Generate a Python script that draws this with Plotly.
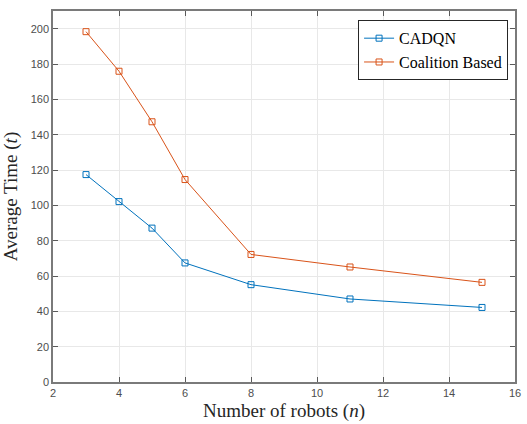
import plotly.graph_objects as go

robots = [3, 4, 5, 6, 8, 11, 15]
cadqn = [117.4, 102.1, 87.1, 67.4, 55.1, 47.0, 42.2]
coalition = [198.3, 175.9, 147.3, 114.6, 72.2, 65.1, 56.4]

SERIF = "Liberation Serif"
SANS = "Liberation Sans"

fig = go.Figure()
fig.add_trace(go.Scatter(x=robots, y=cadqn, name="CADQN", mode="lines+markers",
                         line=dict(color="#0072BD", width=1),
                         marker=dict(symbol="square-open", size=6, color="#0072BD", line=dict(width=1))))
fig.add_trace(go.Scatter(x=robots, y=coalition, name="Coalition Based", mode="lines+markers",
                         line=dict(color="#D95319", width=1),
                         marker=dict(symbol="square-open", size=6, color="#D95319", line=dict(width=1))))

axis_common = dict(showline=True, linecolor="#7a7a7a", linewidth=1.5, mirror="allticks",
                   ticks="inside", ticklen=5, tickcolor="#5a5a5a", showgrid=True,
                   gridcolor="#E8E8E8", gridwidth=1, zeroline=False,
                   tickfont=dict(family=SANS, size=11, color="#4d4d4d"))

fig.update_xaxes(range=[2, 16], dtick=2,
                 title=dict(text="Number of robots (<i>n</i>)",
                            font=dict(family=SERIF, size=19, color="#262626"),
                            standoff=6),
                 **axis_common)
fig.update_yaxes(range=[0, 210], tickvals=[0, 20, 40, 60, 80, 100, 120, 140, 160, 180, 200],
                 title=dict(text="Average Time (<i>t</i>)",
                            font=dict(family=SERIF, size=19, color="#262626"),
                            standoff=8),
                 **axis_common)

fig.update_layout(width=527, height=424, margin=dict(l=53, r=6, t=11, b=40),
                  font=dict(family=SERIF),
                  plot_bgcolor="white", paper_bgcolor="white",
                  legend=dict(x=0.985, y=0.975, xanchor="right", yanchor="top",
                              bordercolor="#262626", borderwidth=1, bgcolor="white",
                              font=dict(family=SERIF, size=16, color="#000000"),
                              itemwidth=30, tracegroupgap=0))

fig.write_html("out.html")
